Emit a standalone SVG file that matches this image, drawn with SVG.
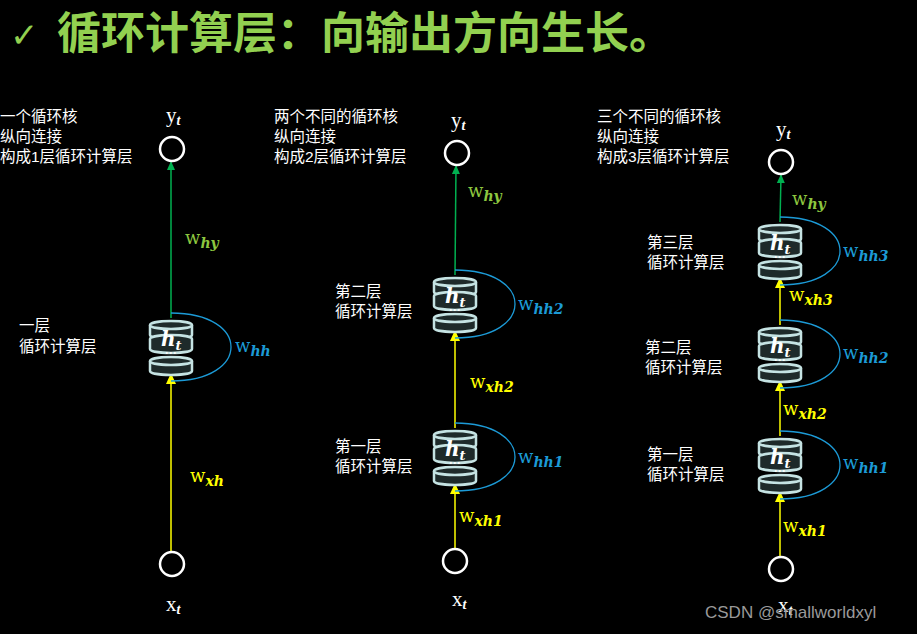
<svg xmlns="http://www.w3.org/2000/svg" width="917" height="634" viewBox="0 0 917 634">
<style>
.cn{font-family:"Liberation Sans","Noto Sans CJK SC",sans-serif;font-size:15.5px;fill:#fff}
.io{font-family:"Liberation Serif",serif;font-size:21px;fill:#fff}
.w{font-family:"DejaVu Serif",serif;font-size:18px}
.s{font-style:italic;font-size:14px;font-weight:bold}
.g{fill:#8dc63f}.b{fill:#1c9ad6}.y{fill:#ffff00}
.cyl{fill:#1e2a2a;stroke:#c5e3e3;stroke-width:2.5}
.nd{fill:none;stroke:#fff;stroke-width:2.5}
.lg{stroke:#00b050;stroke-width:1.5;fill:none}
.ly{stroke:#ffff00;stroke-width:1.5;fill:none}
.lp{stroke:#1c9ad6;stroke-width:1.3;fill:none}
</style>
<defs>
<marker id="ag" markerWidth="10" markerHeight="10" refX="8" refY="5" orient="auto" markerUnits="userSpaceOnUse"><path d="M0,1 L9,5 L0,9 Z" fill="#00b050"/></marker>
<marker id="ay" markerWidth="12" markerHeight="12" refX="10" refY="6" orient="auto" markerUnits="userSpaceOnUse"><path d="M0,1 L11,6 L0,11 Z" fill="#ffff00"/></marker>
<g id="cell">
<path class="lp" d="M0,-34 C80,-34 80,34 0,34"/>
<path class="cyl" d="M-21,-22 L-21,-12 A21,4 0 0 0 21,-12 L21,-22"/>
<ellipse class="cyl" cx="0" cy="-22" rx="21" ry="4"/>
<path class="cyl" d="M-21,-8 L-21,2 A21,4 0 0 0 21,2 L21,-8"/>
<path class="cyl" d="M-21,-8 A21,4 0 0 1 21,-8"/>
<path class="cyl" d="M-21,14 L-21,24 A21,4 0 0 0 21,24 L21,14"/>
<ellipse class="cyl" cx="0" cy="14" rx="21" ry="4"/>
<text x="-10" y="-1" font-family="DejaVu Serif,serif" font-size="20" font-weight="bold" font-style="italic" fill="#fff">h<tspan font-size="13" dy="4">t</tspan></text>
<text x="0" y="10" text-anchor="middle" font-family="Liberation Sans,sans-serif" font-size="12" font-weight="bold" fill="#fff">···</text>
</g>
</defs>
<rect width="917" height="634" fill="#000"/>
<text x="10" y="47" font-family="DejaVu Sans,sans-serif" font-size="34" fill="#92d050">✓</text>
<text x="57" y="49" font-family="Liberation Sans,'Noto Sans CJK SC',sans-serif" font-size="44" font-weight="bold" fill="#92d050">循环计算层：向输出方向生长。</text>

<g id="connectors">
<line class="lg" x1="171" y1="318" x2="171" y2="162" marker-end="url(#ag)"/>
<line class="ly" x1="171" y1="551" x2="171" y2="374" marker-end="url(#ay)"/>
<line class="lg" x1="455" y1="275" x2="456" y2="166" marker-end="url(#ag)"/>
<line class="ly" x1="455" y1="428" x2="455" y2="331" marker-end="url(#ay)"/>
<line class="ly" x1="455" y1="548" x2="455" y2="484" marker-end="url(#ay)"/>
<line class="lg" x1="780" y1="222" x2="781" y2="175" marker-end="url(#ag)"/>
<line class="ly" x1="780" y1="325" x2="780" y2="278" marker-end="url(#ay)"/>
<line class="ly" x1="780" y1="436" x2="780" y2="381" marker-end="url(#ay)"/>
<line class="ly" x1="780" y1="556" x2="780" y2="492" marker-end="url(#ay)"/>
</g>

<g id="col1">
<text class="cn" x="0" y="122">一个循环核</text><text class="cn" x="0" y="142">纵向连接</text><text class="cn" x="0" y="162">构成1层循环计算层</text>
<text class="io" x="166" y="122">y<tspan class="s" font-size="15" dy="3">t</tspan></text>
<circle class="nd" cx="172" cy="149" r="12"/>
<circle class="nd" cx="172" cy="564" r="12"/>
<text class="io" x="166" y="611">x<tspan class="s" font-size="15" dy="3">t</tspan></text>
<use href="#cell" x="171" y="347"/>
<text class="cn" x="19" y="331">一层</text><text class="cn" x="19" y="352">循环计算层</text>
<text class="w g" x="185" y="244">w<tspan class="s" dy="4">hy</tspan></text>
<text class="w b" x="235" y="352">w<tspan class="s" dy="4">hh</tspan></text>
<text class="w y" x="190" y="482">w<tspan class="s" dy="4">xh</tspan></text>
</g>

<g id="col2">
<text class="cn" x="274" y="122">两个不同的循环核</text><text class="cn" x="274" y="142">纵向连接</text><text class="cn" x="274" y="162">构成2层循环计算层</text>
<text class="io" x="451" y="127">y<tspan class="s" font-size="15" dy="3">t</tspan></text>
<circle class="nd" cx="457" cy="153" r="12"/>
<circle class="nd" cx="455" cy="561" r="12"/>
<text class="io" x="452" y="606">x<tspan class="s" font-size="15" dy="3">t</tspan></text>
<use href="#cell" x="455" y="304"/>
<use href="#cell" x="455" y="457"/>
<text class="cn" x="335" y="297">第二层</text><text class="cn" x="335" y="317">循环计算层</text>
<text class="cn" x="335" y="452">第一层</text><text class="cn" x="335" y="472">循环计算层</text>
<text class="w g" x="468" y="197">w<tspan class="s" dy="4">hy</tspan></text>
<text class="w b" x="518" y="310">w<tspan class="s" dy="4">hh2</tspan></text>
<text class="w y" x="470" y="388">w<tspan class="s" dy="4">xh2</tspan></text>
<text class="w b" x="518" y="463">w<tspan class="s" dy="4">hh1</tspan></text>
<text class="w y" x="459" y="522">w<tspan class="s" dy="4">xh1</tspan></text>
</g>

<g id="col3">
<text class="cn" x="597" y="122">三个不同的循环核</text><text class="cn" x="597" y="142">纵向连接</text><text class="cn" x="597" y="162">构成3层循环计算层</text>
<text class="io" x="776" y="136">y<tspan class="s" font-size="15" dy="3">t</tspan></text>
<circle class="nd" cx="781" cy="162" r="12"/>
<circle class="nd" cx="781" cy="569" r="12"/>
<use href="#cell" x="780" y="251"/>
<use href="#cell" x="780" y="354"/>
<use href="#cell" x="780" y="465"/>
<text class="cn" x="647" y="248">第三层</text><text class="cn" x="647" y="268">循环计算层</text>
<text class="cn" x="645" y="353">第二层</text><text class="cn" x="645" y="373">循环计算层</text>
<text class="cn" x="647" y="460">第一层</text><text class="cn" x="647" y="480">循环计算层</text>
<text class="w g" x="792" y="205">w<tspan class="s" dy="4">hy</tspan></text>
<text class="w b" x="843" y="257">w<tspan class="s" dy="4">hh3</tspan></text>
<text class="w y" x="789" y="301">w<tspan class="s" dy="4">xh3</tspan></text>
<text class="w b" x="843" y="359">w<tspan class="s" dy="4">hh2</tspan></text>
<text class="w y" x="783" y="415">w<tspan class="s" dy="4">xh2</tspan></text>
<text class="w b" x="843" y="469">w<tspan class="s" dy="4">hh1</tspan></text>
<text class="w y" x="783" y="532">w<tspan class="s" dy="4">xh1</tspan></text>
<text class="io" x="778" y="612">x<tspan class="s" font-size="15" dy="3">t</tspan></text>
</g>
<text x="705" y="618" font-family="Liberation Sans,sans-serif" font-size="17" fill="#9a9a9a">CSDN @smallworldxyl</text>
</svg>
